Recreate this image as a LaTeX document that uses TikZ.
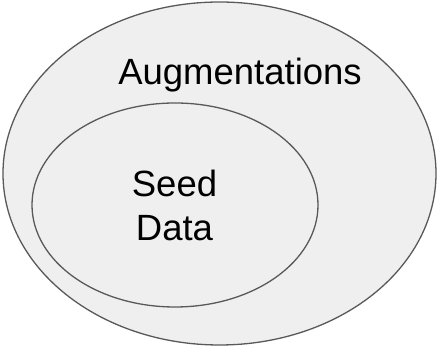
\documentclass[tikz,border=0pt]{standalone}
\usepackage{fontspec}
\setmainfont{Liberation Sans}
\definecolor{fillgray}{HTML}{EFEFEF}
\definecolor{linegray}{HTML}{595959}
\begin{document}
\begin{tikzpicture}[x=1pt,y=1pt,
  setshape/.style={draw=linegray, fill=fillgray, line width=1.3pt},
  labeltext/.style={inner sep=0pt, font=\fontsize{36.5}{44}\selectfont, align=center}]
\useasboundingbox (0,0) rectangle (439,347);
\fill[white] (0,0) rectangle (439,347);
\draw[setshape] (219.5,173.5) ellipse [x radius=216.5, y radius=171.5];
\draw[setshape] (175,142) ellipse [x radius=143, y radius=102];
\node[labeltext, anchor=base] (aug) at (240,262) {Augmentations};
\node[labeltext, anchor=base] (seed) at (174.5,106.3) {Seed\\Data};
\end{tikzpicture}
\end{document}
